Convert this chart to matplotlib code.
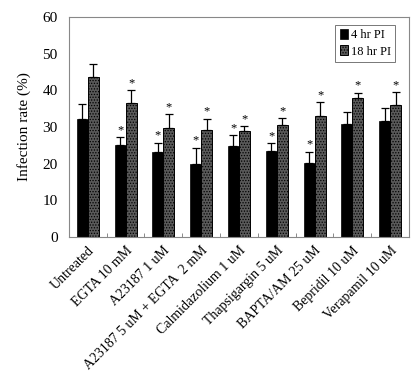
import matplotlib
matplotlib.use("Agg")
import matplotlib.pyplot as plt
import numpy as np

plt.rcParams['font.family'] = ['Liberation Serif', 'DejaVu Serif']
plt.rcParams['hatch.color'] = '#dddddd'
plt.rcParams['hatch.linewidth'] = 0.6

categories = ["Untreated", "EGTA 10 mM", "A23187 1 uM", "A23187 5 uM + EGTA  2 mM",
              "Calmidazolium 1 uM", "Thapsigargin 5 uM", "BAPTA/AM 25 uM",
              "Bepridil 10 uM", "Verapamil 10 uM"]
pi4 = [32.2, 25.0, 23.2, 20.0, 24.9, 23.5, 20.3, 30.9, 31.6]
pi4_err = [4.0, 2.2, 2.5, 4.3, 2.8, 2.0, 3.0, 3.1, 3.5]
pi18 = [43.5, 36.4, 29.6, 29.2, 28.8, 30.6, 33.0, 37.8, 36.0]
pi18_err = [3.6, 3.6, 3.8, 3.0, 1.4, 1.8, 3.8, 1.5, 3.4]
sig4 = [False, True, True, True, True, True, True, False, False]
sig18 = [False, True, True, True, True, True, True, True, True]

fig = plt.figure(figsize=(4.2, 3.75), dpi=100)
ax = fig.add_axes([0.164, 0.368, 0.81, 0.587])

x = np.arange(len(categories))
w = 0.29
ax.bar(x - w/2, pi4, w, color='black', edgecolor='black', linewidth=0.5,
       yerr=[np.zeros(len(pi4)), pi4_err], error_kw=dict(ecolor='black', elinewidth=0.9, capsize=3, capthick=0.9),
       label='4 hr PI')
ax.bar(x + w/2, pi18, w, color='#5a5a5a', edgecolor='black', linewidth=0.7, hatch='......',
       yerr=[np.zeros(len(pi18)), pi18_err], error_kw=dict(ecolor='black', elinewidth=0.9, capsize=3, capthick=0.9),
       label='18 hr PI')

for i in range(len(categories)):
    if sig4[i]:
        ax.text(x[i] - w/2, pi4[i] + pi4_err[i] + 0.3, '*', ha='center', va='bottom', fontsize=9)
    if sig18[i]:
        ax.text(x[i] + w/2, pi18[i] + pi18_err[i] + 0.3, '*', ha='center', va='bottom', fontsize=9)

ax.set_xlim(-0.5, len(categories) - 0.5)
ax.set_ylim(0, 60)
ax.set_yticks(np.arange(0, 61, 10))
ax.set_ylabel('Infection rate (%)', fontsize=11, labelpad=8)
ax.tick_params(axis='y', labelsize=11, length=0, pad=8)
ax.set_xticks(x)
ax.set_xticklabels(categories, rotation=45, ha='right', rotation_mode='anchor', fontsize=10)
ax.tick_params(axis='x', length=0, pad=5)
ax.set_xticks(np.arange(0.5, len(categories) - 0.5, 1), minor=True)
ax.tick_params(axis='x', which='minor', direction='in', length=3, width=0.6, color='#777')
for s in ax.spines.values():
    s.set_color('#888')
    s.set_linewidth(0.8)

leg = ax.legend(loc='upper right', fontsize=9, frameon=True, fancybox=False,
                handlelength=0.7, handleheight=0.8, handletextpad=0.2, borderpad=0.35,
                labelspacing=0.35, borderaxespad=0.0,
                bbox_to_anchor=(0.96, 0.965))
leg.get_frame().set_edgecolor('#555')
leg.get_frame().set_linewidth(0.7)

fig.savefig('out.png', dpi=100)
